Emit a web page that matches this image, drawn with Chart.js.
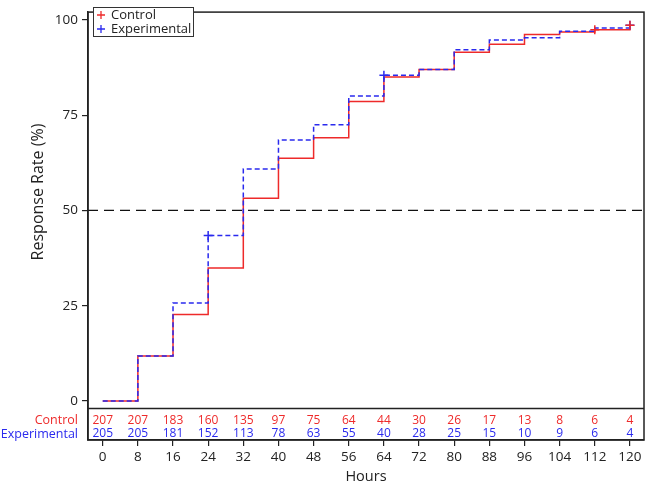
<!DOCTYPE html>
<html>
<head>
<meta charset="utf-8">
<script src="https://cdn.jsdelivr.net/npm/chart.js@4"></script>
<style>
  html, body { margin: 0; padding: 0; background: #fff; }
  #wrap { width: 650px; height: 484px; }
</style>
</head>
<body>
<div id="wrap"><canvas id="kmChart"></canvas></div>
<script>
const hours = [0, 8, 16, 24, 32, 40, 48, 56, 64, 72, 80, 88, 96, 104, 112, 120];
const controlRate = [0, 11.8, 22.7, 34.9, 53.2, 63.7, 69.1, 78.6, 85.0, 87.0, 91.5, 93.6, 96.2, 96.8, 97.4, 98.6];
const experimentalRate = [0, 11.8, 25.7, 43.4, 60.9, 68.5, 72.5, 80.0, 85.5, 87.0, 92.2, 94.7, 95.3, 97.0, 97.9, 98.6];
const controlCensored = [[112, 97.4], [120, 98.6]];
const experimentalCensored = [[24, 43.4], [64, 85.5], [120, 98.6]];
const controlAtRisk = [207, 207, 183, 160, 135, 97, 75, 64, 44, 30, 26, 17, 13, 8, 6, 4];
const experimentalAtRisk = [205, 205, 181, 152, 113, 78, 63, 55, 40, 28, 25, 15, 10, 9, 6, 4];
const yTicks = [0, 25, 50, 75, 100];
const referenceLine = 50;

const RED = "#ee2a2a";
const BLUE = "#2a2aee";
const INK = "#222";
const FONT = "'Open Sans', 'Noto Sans', sans-serif";

const X_MIN = -3.35, X_MAX = 123.2;
const Y_MIN = -10.26, Y_MAX = 102.05;
const TABLE_TOP = -1.97;

Chart.defaults.font.family = FONT;
Chart.defaults.color = INK;

const points = (xs, ys) => xs.map((x, i) => ({ x, y: ys[i] }));
const pairs = list => list.map(([x, y]) => ({ x, y }));

const decorations = {
  id: "decorations",
  afterDraw(chart) {
    const { ctx, chartArea: a, scales: { x, y } } = chart;
    ctx.save();

    // frame + separator above the at-risk table
    ctx.strokeStyle = INK;
    ctx.lineWidth = 1.5;
    ctx.strokeRect(a.left, a.top, a.right - a.left, a.bottom - a.top);
    const sep = y.getPixelForValue(TABLE_TOP);
    ctx.beginPath();
    ctx.moveTo(a.left, sep);
    ctx.lineTo(a.right, sep);
    ctx.stroke();

    // number at risk
    const rowC = 420.5, rowE = 434;
    ctx.textBaseline = "middle";
    ctx.font = "12.5px " + FONT;
    ctx.textAlign = "right";
    ctx.fillStyle = RED;
    ctx.fillText("Control", 78, rowC);
    ctx.fillStyle = BLUE;
    ctx.fillText("Experimental", 78, rowE);
    ctx.font = "12px " + FONT;
    ctx.textAlign = "center";
    hours.forEach((h, i) => {
      const px = x.getPixelForValue(h);
      ctx.fillStyle = RED;
      ctx.fillText(String(controlAtRisk[i]), px, rowC);
      ctx.fillStyle = BLUE;
      ctx.fillText(String(experimentalAtRisk[i]), px, rowE);
    });

    // legend
    const lx = 93, ly = 7, lw = 100, lh = 29;
    ctx.fillStyle = "#fff";
    ctx.fillRect(lx, ly, lw, lh);
    ctx.lineWidth = 1;
    ctx.strokeStyle = "#333";
    ctx.strokeRect(lx + 0.5, ly + 0.5, lw, lh);
    const items = [["Control", RED, 15], ["Experimental", BLUE, 29]];
    items.forEach(([label, color, cy]) => {
      ctx.strokeStyle = color;
      ctx.lineWidth = 1.3;
      ctx.beginPath();
      ctx.moveTo(97, cy); ctx.lineTo(105, cy);
      ctx.moveTo(101, cy - 4); ctx.lineTo(101, cy + 4);
      ctx.stroke();
      ctx.fillStyle = INK;
      ctx.font = "13px " + FONT;
      ctx.textAlign = "left";
      ctx.fillText(label, 111, cy + 0.5);
    });

    // axis titles
    ctx.fillStyle = INK;
    ctx.font = "14.5px " + FONT;
    ctx.textAlign = "center";
    ctx.fillText("Hours", (a.left + a.right) / 2, 477);
    ctx.translate(38, 192);
    ctx.rotate(-Math.PI / 2);
    ctx.font = "16px " + FONT;
    ctx.fillText("Response Rate (%)", 0, 0);
    ctx.restore();
  }
};

new Chart(document.getElementById("kmChart"), {
  type: "line",
  data: {
    datasets: [
      {
        label: "Experimental",
        data: points(hours, experimentalRate),
        borderColor: BLUE, borderWidth: 1.5, borderDash: [5, 3],
        stepped: "before", pointRadius: 0, fill: false, order: 1
      },
      {
        label: "Control",
        data: points(hours, controlRate),
        borderColor: RED, borderWidth: 1.5,
        stepped: "before", pointRadius: 0, fill: false, order: 2
      },
      {
        label: "50%",
        data: [{ x: X_MIN, y: referenceLine }, { x: X_MAX, y: referenceLine }],
        borderColor: "#111", borderWidth: 1.3, borderDash: [10, 6],
        pointRadius: 0, fill: false, order: 3
      },
      {
        label: "Control censored",
        data: pairs(controlCensored), showLine: false,
        pointStyle: "cross", pointRadius: 4.5, borderColor: RED, borderWidth: 1.5, order: 0
      },
      {
        label: "Experimental censored",
        data: pairs(experimentalCensored), showLine: false,
        pointStyle: "cross", pointRadius: 4.5, borderColor: BLUE, borderWidth: 1.5, order: 0
      }
    ]
  },
  options: {
    responsive: true,
    maintainAspectRatio: false,
    animation: false,
    layout: { padding: { top: 2, right: 4, left: 0, bottom: 0 } },
    plugins: { legend: { display: false }, tooltip: { enabled: false } },
    scales: {
      x: {
        type: "linear", min: X_MIN, max: X_MAX,
        afterBuildTicks: s => { s.ticks = hours.map(v => ({ value: v })); },
        afterFit: s => { s.height = 44; },
        grid: { drawOnChartArea: false, drawTicks: true, tickLength: 6, color: INK, lineWidth: 1.2 },
        border: { color: INK, width: 1.5 },
        ticks: { font: { size: 13.5 }, color: INK, padding: 3, maxRotation: 0, autoSkip: false }
      },
      y: {
        type: "linear", min: Y_MIN, max: Y_MAX,
        afterBuildTicks: s => { s.ticks = yTicks.map(v => ({ value: v })); },
        afterFit: s => { s.width = 88; },
        grid: { drawOnChartArea: false, drawTicks: true, tickLength: 6, color: INK, lineWidth: 1.2 },
        border: { color: INK, width: 1.5 },
        ticks: { font: { size: 13.5 }, color: INK, padding: 4, autoSkip: false }
      }
    }
  },
  plugins: [decorations]
});
</script>
</body>
</html>
